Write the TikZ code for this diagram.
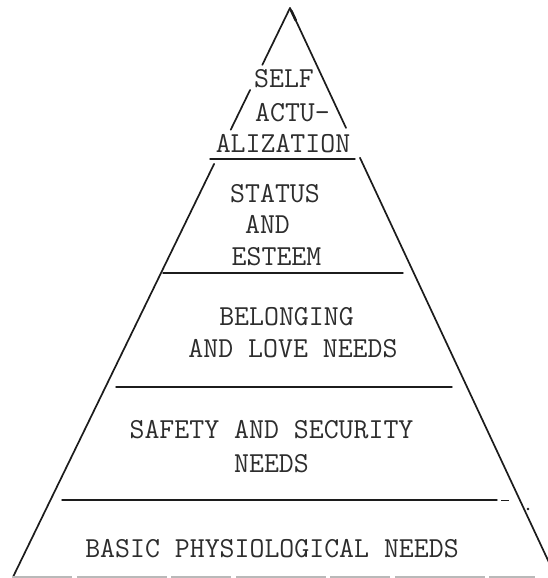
\documentclass[tikz,border=0pt]{standalone}
\usepackage{fontspec}
\usetikzlibrary{calc}
\definecolor{ink}{RGB}{28,28,28}
\definecolor{typeink}{RGB}{45,45,45}
\tikzset{
  side/.style={draw=ink, line width=1.7pt, line cap=round},
  tier/.style={draw=ink, line width=1.4pt, line cap=round},
  label/.style={anchor=base, inner sep=0pt, text=typeink,
    font=\ttfamily\fontsize{29}{34}\selectfont},
}
\begin{document}
\begin{tikzpicture}[x=1pt, y=-1pt]
  \useasboundingbox (0,0) rectangle (548,578);
  \clip (0,0) rectangle (548,578);

  % corners of the pyramid
  \coordinate (apex) at (290,8);
  \coordinate (bl) at (13,577);
  \coordinate (br) at (553,571);

  % left side, broken where the top label crosses it
  \draw[side] (apex) -- ($(apex)!0.100!(bl)$);
  \draw[side] ($(apex)!0.144!(bl)$) -- ($(apex)!0.214!(bl)$);
  \draw[side] ($(apex)!0.274!(bl)$) -- (bl);

  % right side
  \draw[side] (apex) -- ($(apex)!0.213!(br)$);
  \draw[side] ($(apex)!0.266!(br)$) -- (br);
  \draw[ink, line width=2.6pt, line cap=round] ($(apex)!0.005!(br)$) -- ($(apex)!0.022!(br)$);

  % dividing lines between the levels
  \coordinate (d1l) at (210,159); \coordinate (d1r) at (355,159);
  \coordinate (d2l) at (163,273); \coordinate (d2r) at (403,273);
  \coordinate (d3l) at (116,387); \coordinate (d3r) at (452,387);
  \coordinate (d4l) at (62,500);  \coordinate (d4r) at (497,500);
  \coordinate (d4a) at (501,500); \coordinate (d4b) at (509,500);
  \draw[tier] (d1l) -- (d1r);
  \draw[tier] (d2l) -- (d2r);
  \draw[tier] (d3l) -- (d3r);
  \draw[tier] (d4l) -- (d4r);
  \draw[ink, line width=0.8pt] (d4a) -- (d4b);
  \coordinate (speck) at (528,509);
  \fill[ink] (speck) circle (1.3pt);

  % base line, mostly lost at the lower edge
  \coordinate (b0) at (12,577); \coordinate (b1) at (535,577);
  \draw[gray!55, line width=1.2pt, dash pattern=on 60pt off 5pt on 90pt off 4pt] (b0) -- (b1);

  % level labels
  \node[label] (self)  at (284,88)  {SELF};
  \node[label] (actu)  at (292.5,121) {ACTU-};
  \node[label] (aliz)  at (283,152) {ALIZATION};
  \node[label] (stat)  at (275,202) {STATUS};
  \node[label] (and1)  at (267.5,233) {AND};
  \node[label] (este)  at (276.5,265) {ESTEEM};
  \node[label] (belo)  at (286.5,325) {BELONGING};
  \node[label] (love)  at (293,357) {AND LOVE NEEDS};
  \node[label] (safe)  at (271.5,438) {SAFETY AND SECURITY};
  \node[label] (need)  at (271.5,472) {NEEDS};
  \node[label] (basic) at (272,557) {BASIC PHYSIOLOGICAL NEEDS};
\end{tikzpicture}
\end{document}
